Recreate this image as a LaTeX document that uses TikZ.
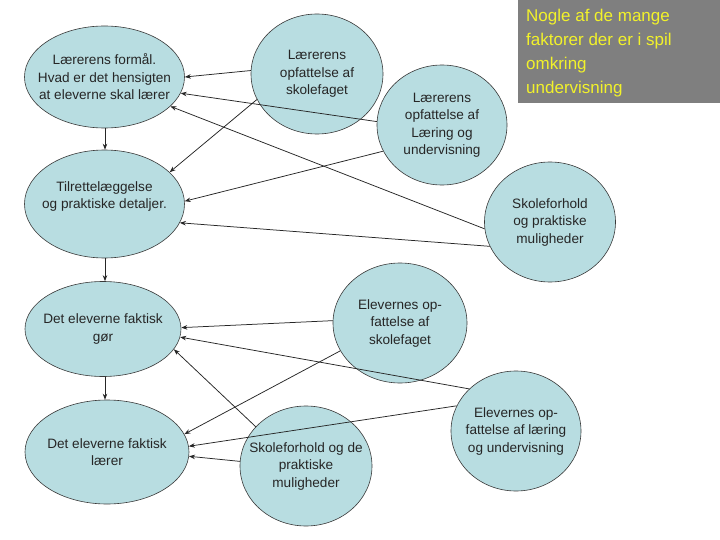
\documentclass[tikz,border=0pt]{standalone}
\usepackage{fontspec}
\setmainfont{Liberation Sans}
\usetikzlibrary{shapes.geometric,arrows.meta}
\definecolor{bubble}{HTML}{B8DDE1}
\definecolor{edge}{HTML}{3A3A3A}
\definecolor{boxgray}{HTML}{7F7F7F}
\definecolor{ytext}{HTML}{F2F22A}
\begin{document}
\begin{tikzpicture}[x=1pt,y=1pt,
  bub/.style={ellipse,draw=edge,fill=bubble,line width=0.6pt,inner xsep=-20pt,inner ysep=0pt,
    align=center,font=\fontsize{13.6}{17.5}\selectfont,text=black!85},
  arr/.style={-{Stealth[length=6pt,width=4.5pt]},line width=0.75pt,black!85}]
\useasboundingbox (0,0) rectangle (720,-540);
\fill[white] (0,0) rectangle (720,-540);
% left column
\node[bub,minimum width=160pt,minimum height=102pt] (e1) at (104.5,-77) {Lærerens formål.\\Hvad er det hensigten\\at eleverne skal lærer};
\node[bub,minimum width=160pt,minimum height=108pt] (e2) at (104.5,-204) {Tilrettelæggelse\\og praktiske detaljer.\\\mbox{}};
\node[bub,minimum width=156pt,minimum height=95pt] (e3) at (103,-329) {Det eleverne faktisk\\gør};
\node[bub,minimum width=164pt,minimum height=104pt] (e4) at (107,-452) {Det eleverne faktisk\\lærer};
% right circles
\node[bub,minimum width=132pt,minimum height=120pt] (c1) at (317,-74) {Lærerens\\opfattelse af\\skolefaget};
\node[bub,minimum width=130pt,minimum height=120pt] (c2) at (442,-125) {Lærerens\\opfattelse af\\Læring og\\undervisning};
\node[bub,minimum width=131pt,minimum height=120pt] (c3) at (550,-222) {Skoleforhold\\og praktiske\\muligheder};
\node[bub,minimum width=134pt,minimum height=120pt] (c4) at (400,-323) {Elevernes op-\\fattelse af\\skolefaget};
\node[bub,minimum width=130pt,minimum height=120pt] (c5) at (516,-431) {Elevernes op-\\fattelse af læring\\og undervisning};
\node[bub,minimum width=132pt,minimum height=120pt] (c6) at (306,-466) {Skoleforhold og de\\praktiske\\muligheder};
% title box
\node[fill=boxgray,minimum width=202pt,minimum height=103pt,anchor=north west,inner sep=0pt] (tb) at (518,0) {};
\node[anchor=north west,align=left,text=ytext,font=\fontsize{17}{24}\selectfont,inner sep=0pt] (tt) at (526,-9)
  {Nogle af de mange\\faktorer der er i spil\\omkring\\undervisning};
% vertical arrows
\draw[arr] (105,-128) coordinate (v1) -- (v1 |- e2.north);
\draw[arr] (105,-258) coordinate (v2) -- (v2 |- e3.north);
\draw[arr] (105,-376.5) coordinate (v3) -- (v3 |- e4.north);
% connectors
\draw[arr] (c1.177.4) -- (e1.0);
\draw[arr] (c2.177) -- (e1.-12.7);
\draw[arr] (c1.203.4) -- (e2.26);
\draw[arr] (c3.186.9) -- (e1.-24.6);
\draw[arr] (c2.204.2) -- (e2.2);
\draw[arr] (c3.202.6) -- (e2.-14.8);
\draw[arr] (c4.178.3) -- (e3.1.5);
\draw[arr] (c5.138) -- (e3.-6.7);
\draw[arr] (c4.205.3) -- (e4.13.7);
\draw[arr] (c6.142.2) -- (e3.-16.7);
\draw[arr] (c5.157) -- (e4.4.8);
\draw[arr] (c6.176.5) -- (e4.-3.4);
\end{tikzpicture}
\end{document}
